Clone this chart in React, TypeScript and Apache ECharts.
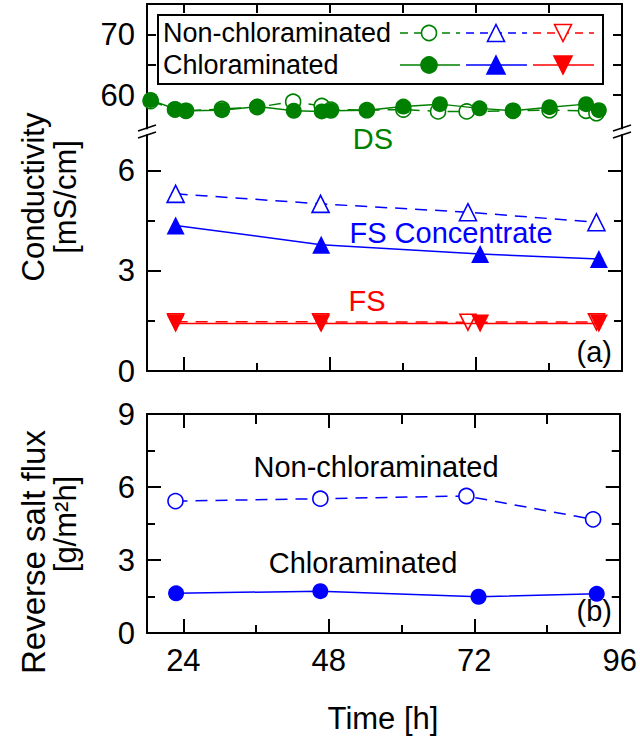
import React, { useEffect, useRef } from "react";
import * as echarts from "echarts";

// ---- Data ----
// Panel (a) top: DS conductivity [mS/cm]
const dsChlorTime = [18.6, 22.6, 24.4, 30.3, 36.1, 42.1, 46.7, 48.2, 54.1, 60.1, 66.1, 72.6, 78.1, 84.1, 90.1, 92.2];
const dsChlorValue = [59.2, 57.7, 57.4, 57.5, 58.1, 57.4, 57.3, 57.4, 57.5, 58.1, 58.5, 57.8, 57.4, 58.0, 58.5, 57.5];
const dsNonTime = [18.6, 22.6, 24.4, 30.3, 36.1, 42.0, 46.7, 48.2, 54.1, 60.1, 65.8, 70.5, 78.1, 84.1, 90.1, 91.8];
const dsNonValue = [59.0, 57.6, 57.4, 57.7, 58.0, 58.9, 58.2, 57.6, 57.5, 57.6, 57.3, 57.3, 57.4, 57.5, 57.4, 57.0];

// Panel (a) bottom: FS concentrate and FS conductivity [mS/cm]
const fsNonTime = [22.7, 46.5, 70.7, 91.8];
const fsChlorTime = [22.7, 46.6, 72.7, 92.2];
const fscNonValue = [5.3, 5.0, 4.75, 4.45];
const fscChlorValue = [4.35, 3.78, 3.5, 3.35];
const fsNonValue = [1.47, 1.47, 1.46, 1.47];
const fsChlorValue = [1.42, 1.42, 1.42, 1.42];

// Panel (b): reverse salt flux [g/m2h]
const rsfNonTime = [22.7, 46.6, 70.7, 91.6];
const rsfNonValue = [5.42, 5.52, 5.63, 4.67];
const rsfChlorTime = [22.8, 46.6, 72.7, 92.2];
const rsfChlorValue = [1.63, 1.72, 1.49, 1.61];

// Axis ticks
const xMajor = [24, 48, 72, 96];
const xMinor = [36, 60, 84];
const dsTicks = [60, 65, 70];
const dsLabels = [60, 70];
const condMajor = [0, 3, 6];
const condMinor = [1.5, 4.5];
const rsfMajor = [0, 3, 6, 9];
const rsfMinor = [1.5, 4.5, 7.5];

const GREEN = "#008000";
const BLUE = "#0000ff";
const RED = "#ff0000";
const FONT = "Liberation Sans, Arial, sans-serif";

const pts = (xs: number[], ys: number[]) => xs.map((x, i) => [x, ys[i]]);

export default function App() {
  const ref = useRef<HTMLDivElement>(null);
  useEffect(() => {
    document.body.style.margin = "0";
    const chart = echarts.init(ref.current!, null, { renderer: "svg" });

    const X_MIN = 18, X_MAX = 96;
    const lineBase = { show: true, onZero: false, lineStyle: { color: "#000", width: 2 } };

    const xAx = (grid: number, position: string, ticks: number[], len: number, showLine: boolean, labels?: number[]) => ({
      type: "value", gridIndex: grid, position, min: X_MIN, max: X_MAX,
      axisLine: showLine ? lineBase : { show: false, onZero: false },
      axisTick: { show: true, inside: true, length: len, customValues: ticks, lineStyle: { color: "#000", width: 2 } },
      axisLabel: labels
        ? { show: true, customValues: labels, fontSize: 31, color: "#000", margin: 12, fontFamily: FONT }
        : { show: false },
      splitLine: { show: false },
    });
    const yAx = (grid: number, position: string, min: number, max: number, ticks: number[], len: number, showLine: boolean, labels?: number[]) => ({
      type: "value", gridIndex: grid, position, min, max,
      axisLine: showLine ? lineBase : { show: false, onZero: false },
      axisTick: { show: true, inside: true, length: len, customValues: ticks, lineStyle: { color: "#000", width: 2 } },
      axisLabel: labels
        ? { show: true, customValues: labels, fontSize: 31, color: "#000", margin: 12, fontFamily: FONT }
        : { show: false },
      splitLine: { show: false },
    });

    const xAxis = [
      xAx(0, "top", xMajor, 9, true),          // 0
      xAx(0, "top", xMinor, 9, false),         // 1
      xAx(1, "bottom", xMajor, 14, true),      // 2
      xAx(1, "bottom", xMinor, 8, false),      // 3
      xAx(2, "bottom", xMajor, 14, true, xMajor), // 4
      xAx(2, "bottom", xMinor, 8, false),      // 5
      xAx(2, "top", xMajor, 14, true),         // 6
      xAx(2, "top", xMinor, 10, false),        // 7
    ];
    const yAxis = [
      yAx(0, "left", 54.5, 75, dsTicks, 9, true, dsLabels), // 0
      yAx(0, "right", 54.5, 75, dsTicks, 9, true),          // 1
      yAx(1, "left", 0, 7.06, condMajor, 14, true, condMajor), // 2
      yAx(1, "left", 0, 7.06, condMinor, 8, false),         // 3
      yAx(1, "right", 0, 7.06, condMajor, 14, true),        // 4
      yAx(1, "right", 0, 7.06, condMinor, 8, false),        // 5
      yAx(2, "left", 0, 9, rsfMajor, 14, true, rsfMajor),   // 6
      yAx(2, "left", 0, 9, rsfMinor, 8, false),             // 7
      yAx(2, "right", 0, 9, rsfMajor, 14, true),            // 8
      yAx(2, "right", 0, 9, rsfMinor, 8, false),            // 9
    ];

    const DASH = [12, 8];
    const openSeries = (name: string, data: number[][], color: string, xi: number, yi: number, symbol: string, rotate = 0, size = 15) => ({
      name, type: "line", data, xAxisIndex: xi, yAxisIndex: yi, symbol, symbolSize: size, symbolRotate: rotate,
      showAllSymbol: true, silent: true, z: 2,
      itemStyle: { color: "#fff", borderColor: color, borderWidth: 1.6 },
      lineStyle: { color, width: 1.5, type: DASH },
    });
    const filledSeries = (name: string, data: number[][], color: string, xi: number, yi: number, symbol: string, rotate = 0, size = 16) => ({
      name, type: "line", data, xAxisIndex: xi, yAxisIndex: yi, symbol, symbolSize: size, symbolRotate: rotate,
      showAllSymbol: true, silent: true, z: 3,
      itemStyle: { color, borderColor: color, borderWidth: 0 },
      lineStyle: { color, width: 1.5, type: "solid" },
    });

    const series = [
      openSeries("DS non", pts(dsNonTime, dsNonValue), GREEN, 0, 0, "circle", 0, 15),
      filledSeries("DS chlor", pts(dsChlorTime, dsChlorValue), GREEN, 0, 0, "circle", 0, 16),
      openSeries("FSC non", pts(fsNonTime, fscNonValue), BLUE, 2, 2, "triangle", 0, 17),
      filledSeries("FSC chlor", pts(fsChlorTime, fscChlorValue), BLUE, 2, 2, "triangle", 0, 18),
      openSeries("FS non", pts(fsNonTime, fsNonValue), RED, 2, 2, "triangle", 180, 16),
      filledSeries("FS chlor", pts(fsChlorTime, fsChlorValue), RED, 2, 2, "triangle", 180, 18),
      openSeries("RSF non", pts(rsfNonTime, rsfNonValue), BLUE, 4, 6, "circle", 0, 15),
      filledSeries("RSF chlor", pts(rsfChlorTime, rsfChlorValue), BLUE, 4, 6, "circle", 0, 16),
    ];

    const txt = (text: string, x: number, y: number, size: number, color = "#000", align = "center", rotation = 0) => ({
      type: "text", x, y, rotation, silent: true, z: 110,
      style: { text, fontSize: size, fontFamily: FONT, fill: color, align, verticalAlign: "middle" },
    });
    const seg = (x1: number, y1: number, x2: number, y2: number, color: string, dashed: boolean, w = 1.5) => ({
      type: "line", silent: true, z: 105,
      shape: { x1, y1, x2, y2 },
      style: { stroke: color, lineWidth: w, lineDash: dashed ? [8, 6] : null },
    });
    const tri = (cx: number, cy: number, s: number, down: boolean, color: string, filled: boolean) => {
      const h = s / 2;
      const points = down
        ? [[cx - h, cy - h], [cx + h, cy - h], [cx, cy + h]]
        : [[cx, cy - h], [cx + h, cy + h], [cx - h, cy + h]];
      return {
        type: "polygon", silent: true, z: 106, shape: { points },
        style: { fill: filled ? color : "#fff", stroke: color, lineWidth: 1.6 },
      };
    };
    const circ = (cx: number, cy: number, r: number, color: string, filled: boolean) => ({
      type: "circle", silent: true, z: 106, shape: { cx, cy, r },
      style: { fill: filled ? color : "#fff", stroke: color, lineWidth: 1.6 },
    });

    const r1 = 33, r2 = 65;
    const graphic = [
      // legend box
      { type: "rect", silent: true, z: 100, shape: { x: 158, y: 15, width: 445, height: 69 }, style: { fill: "#fff", stroke: "#000", lineWidth: 2 } },
      txt("Non-chloraminated", 163, r1, 27, "#000", "left"),
      txt("Chloraminated", 163, r2, 27, "#000", "left"),
      seg(400, r1, 460, r1, GREEN, true), circ(429, r1, 7.5, GREEN, false),
      seg(466, r1, 527, r1, BLUE, true), tri(496, r1, 17, false, BLUE, false),
      seg(533, r1, 594, r1, RED, true), tri(563, r1, 17, true, RED, false),
      seg(400, r2, 460, r2, GREEN, false), circ(429, r2, 8, GREEN, true),
      seg(466, r2, 527, r2, BLUE, false), tri(496, r2, 18, false, BLUE, true),
      seg(533, r2, 594, r2, RED, false), tri(563, r2, 18, true, RED, true),
      // break marks
      seg(138, 131, 156, 125, "#000", false, 1.5),
      seg(138, 138, 156, 132, "#000", false, 1.5),
      seg(613, 131, 631, 125, "#000", false, 1.5),
      seg(613, 138, 631, 132, "#000", false, 1.5),
      // annotations
      txt("DS", 373, 139, 29, GREEN),
      txt("FS Concentrate", 451, 233, 29, BLUE),
      txt("FS", 367, 301, 29, RED),
      txt("(a)", 612, 352, 29, "#000", "right"),
      txt("Non-chloraminated", 376, 467, 29),
      txt("Chloraminated", 363, 563, 29),
      txt("(b)", 612, 611, 29, "#000", "right"),
      // axis titles
      txt("Time [h]", 383, 718, 31),
      txt("Conductivity", 33, 197, 31, "#000", "center", Math.PI / 2),
      txt("[mS/cm]", 65, 197, 31, "#000", "center", Math.PI / 2),
      txt("Reverse salt flux", 33, 552, 33, "#000", "center", Math.PI / 2),
      txt("[g/m²h]", 65, 524, 31, "#000", "center", Math.PI / 2),
    ];

    chart.setOption({
      animation: false,
      backgroundColor: "#fff",
      textStyle: { fontFamily: FONT },
      grid: [
        { left: 147, right: 18, top: 4, height: 124.4 },
        { left: 147, right: 18, top: 135, height: 236 },
        { left: 147, right: 18, top: 414, height: 219 },
      ],
      xAxis,
      yAxis,
      series,
      graphic,
    });
    return () => chart.dispose();
  }, []);
  return <div ref={ref} style={{ width: 640, height: 738 }} />;
}
